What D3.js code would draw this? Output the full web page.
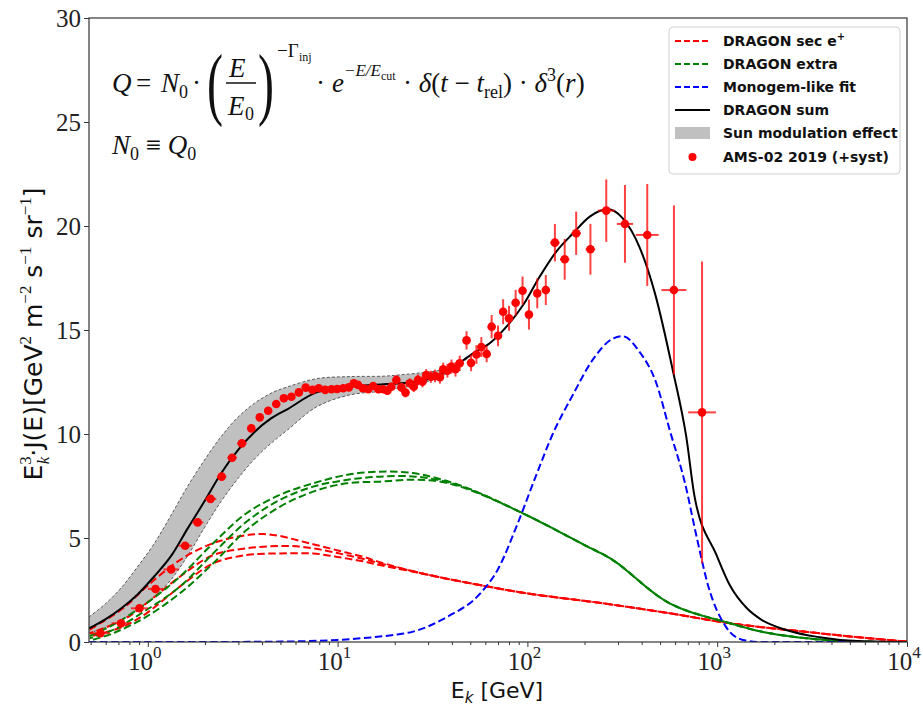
<!DOCTYPE html>
<html>
<head>
<meta charset="utf-8">
<script src="https://d3js.org/d3.v7.min.js"></script>
<style>
  body { margin: 0; background: #fff; }
  .tick text { font-family: "Liberation Serif", serif; }
</style>
</head>
<body>
<div id="chart"></div>
<script>
// ---- data ----
// AMS-02 2019 positron points: energy [GeV], E^3 J(E), y error, half bin width (dex)
var amsE = [0.563, 0.723, 0.904, 1.098, 1.327, 1.573, 1.83, 2.14, 2.45, 2.78, 3.13, 3.51, 3.89, 4.31, 4.75, 5.21,
  5.71, 6.25, 6.79, 7.37, 7.96, 8.6, 9.29, 9.94, 10.7, 11.46, 12.17, 12.8, 13.6, 14.5, 15.4, 16.4, 17.4, 18.3, 19.2,
  20.4, 21.7, 22.8, 24.0, 25.2, 26.5, 28.0, 29.3, 31.0, 32.6, 34.6, 36.0, 37.9, 39.8, 41.8, 44.0,
  47.8, 50.5, 53.9, 57.2, 61.0, 64.8, 70.0, 74.5, 80.0, 86.7, 94.3, 101.9, 112.7, 125, 139.6, 157.2, 180.7, 214.8,
  260.3, 326.6, 428, 591.5, 832];
var amsV = [0.42, 0.90, 1.62, 2.55, 3.49, 4.63, 5.75, 6.88, 7.95, 8.86, 9.55, 10.27, 10.80, 11.12, 11.44, 11.72,
  11.79, 12.0, 12.23, 12.12, 12.2, 12.12, 12.15, 12.16, 12.2, 12.24, 12.44, 12.36, 12.2, 12.15, 12.31, 12.15, 12.15, 12.08, 12.27,
  12.6, 12.24, 11.99, 12.44, 12.27, 12.6, 12.51, 12.84, 12.75, 12.79, 12.73, 13.11, 13.04, 13.24, 13.11, 13.4,
  14.5, 13.42, 13.82, 14.18, 13.85, 15.16, 14.72, 15.88, 15.56, 16.31, 16.89, 15.74, 16.76, 16.92, 19.2, 18.4, 19.65, 18.88,
  20.74, 20.1, 19.57, 16.92, 11.04];
var amsErr = [0.06, 0.06, 0.07, 0.07, 0.08, 0.08, 0.09, 0.09, 0.1, 0.1, 0.1, 0.1, 0.11, 0.11, 0.11, 0.12,
  0.12, 0.13, 0.13, 0.13, 0.14, 0.14, 0.14, 0.15, 0.15, 0.16, 0.16, 0.17, 0.17, 0.18, 0.18, 0.19, 0.19, 0.2, 0.2,
  0.21, 0.22, 0.23, 0.24, 0.25, 0.26, 0.27, 0.28, 0.29, 0.3, 0.31, 0.32, 0.33, 0.34, 0.35, 0.37,
  0.44, 0.4, 0.45, 0.48, 0.4, 0.56, 0.5, 0.6, 0.6, 0.62, 0.68, 0.72, 0.72, 0.72, 0.9, 0.98, 1.04, 1.22,
  1.5, 1.87, 2.45, 4.07, 7.25];
var amsDx = [0.05, 0.05, 0.045, 0.04, 0.04, 0.035, 0.03, 0.03, 0.025, 0.025, 0.025, 0.02, 0.02, 0.02, 0.02, 0.02,
  0.015, 0.015, 0.015, 0.015, 0.015, 0.015, 0.015, 0.015, 0.015, 0.015, 0.015, 0.015, 0.015, 0.015, 0.015, 0.015, 0.015, 0.015, 0.015,
  0.015, 0.015, 0.015, 0.015, 0.015, 0.015, 0.015, 0.015, 0.015, 0.015, 0.015, 0.015, 0.015, 0.015, 0.015, 0.015,
  0.02, 0.02, 0.02, 0.02, 0.02, 0.02, 0.02, 0.02, 0.02, 0.02, 0.02, 0.02, 0.02, 0.02, 0.025, 0.025, 0.025, 0.025,
  0.044, 0.043, 0.06, 0.066, 0.073];

// DRAGON sum (black)
var sumE = [0.49, 0.6, 0.72, 0.886, 1.08, 1.33, 1.62, 2.0, 2.43, 3.0, 3.65, 4.46, 5.46, 7.74, 11.6, 17.4, 26, 39,
  51.7, 63.3, 77.6, 94.9, 116, 142, 174, 213, 240, 265, 318, 389, 470, 583, 687, 760, 990, 1170, 1434, 1690,
  2308, 3463, 5196, 10000];
var sumV = [0.65, 1.1, 1.6, 2.3, 3.15, 4.15, 5.45, 6.8, 8.1, 9.25, 10.1, 10.75, 11.2, 12.0, 12.27, 12.39, 12.51, 13.1,
  13.88, 14.36, 15.16, 16.2, 17.56, 18.77, 19.65, 20.45, 20.72, 20.8, 20.37, 19.0, 16.76, 13.08, 9.87, 6.99, 4.2, 2.7, 1.62, 1.1,
  0.58, 0.23, 0.06, 0.0];

// Sun modulation band
var bandE = [0.49, 0.6, 0.723, 0.88, 1.084, 1.327, 1.624, 1.99, 2.43, 2.98, 3.65, 4.46, 5.46, 7.74, 11.6, 17.4, 21, 26, 34, 39, 52];
var bandHi = [1.2, 1.85, 2.6, 3.6, 4.75, 6.1, 7.5, 8.75, 9.87, 10.8, 11.48, 11.96, 12.27, 12.66, 12.76, 12.78, 12.84, 12.92, 13.05, 13.2, 13.9];
var bandLo = [0.42, 0.7, 1.05, 1.55, 2.18, 3.0, 4.15, 5.5, 6.75, 7.85, 8.8, 9.55, 10.2, 11.3, 11.88, 12.06, 12.2, 12.36, 12.7, 13.0, 13.86];

// DRAGON secondary e+ (three red dashed)
var secE = [0.494, 0.741, 0.984, 1.475, 2.21, 3.31, 4.05, 4.96, 6.07, 7.43, 9.1, 11.1, 13.6, 16.7, 25, 35, 56, 99, 250, 562, 1170, 2850, 6300, 10000];
var secA = [0.6, 1.62, 2.66, 3.94, 4.75, 5.14, 5.19, 5.1, 4.9, 4.7, 4.5, 4.3, 4.1, 3.84, 3.4, 3.1, 2.74, 2.34, 1.86, 1.38, 0.9, 0.5, 0.18, 0.02];
var secB = [0.42, 1.06, 1.86, 3.14, 4.18, 4.5, 4.58, 4.62, 4.6, 4.5, 4.35, 4.18, 4.0, 3.78, 3.4, 3.1, 2.74, 2.34, 1.86, 1.38, 0.9, 0.5, 0.18, 0.02];
var secC = [0.26, 0.74, 1.38, 2.66, 3.78, 4.18, 4.24, 4.26, 4.27, 4.26, 4.15, 4.02, 3.88, 3.7, 3.38, 3.1, 2.74, 2.34, 1.86, 1.38, 0.9, 0.5, 0.18, 0.02];

// DRAGON extra (three green dashed)
var extraE = [0.494, 0.656, 0.984, 1.475, 2.21, 3.31, 4.96, 7.43, 11.1, 16.7, 25, 35, 50, 99, 200, 282, 562, 1170, 1890, 4240, 10000];
var extraA = [0.29, 0.82, 1.86, 3.14, 4.75, 6.19, 7.07, 7.63, 8.03, 8.19, 8.12, 7.82, 7.35, 6.1, 4.66, 3.94, 1.86, 0.9, 0.42, 0.06, 0.0];
var extraB = [0.18, 0.58, 1.54, 2.66, 4.26, 5.78, 6.83, 7.47, 7.79, 7.95, 7.96, 7.76, 7.33, 6.1, 4.66, 3.94, 1.86, 0.9, 0.42, 0.06, 0.0];
var extraC = [0.06, 0.42, 1.22, 2.34, 3.78, 5.38, 6.5, 7.23, 7.63, 7.71, 7.8, 7.7, 7.3, 6.1, 4.66, 3.94, 1.86, 0.9, 0.42, 0.06, 0.0];

// Monogem-like fit (blue dashed)
var monoE = [0.49, 2, 5, 10, 15, 20, 25, 37.6, 56, 70, 88, 110, 136, 174, 222, 284, 318, 389, 478, 562, 677, 779, 899, 1110, 1366, 1700, 10000];
var monoV = [0, 0, 0.02, 0.1, 0.22, 0.35, 0.5, 1.2, 2.3, 3.5, 5.6, 7.9, 10.0, 11.9, 13.6, 14.6, 14.7, 13.96, 12.44, 10.19, 7.63, 5.06, 2.66, 0.74, 0.1, 0.0, 0.0];

var legendLabels = ["DRAGON sec e", "DRAGON extra", "Monogem-like fit", "DRAGON sum", "Sun modulation effect", "AMS-02 2019 (+syst)"];
var yTicks = [0, 5, 10, 15, 20, 25, 30];
var xTicks = [1, 10, 100, 1000, 10000];

// ---- layout ----
var W = 923, H = 707;
var mL = 89, mR = 907, mT = 18, mB = 642;

var svg = d3.select("#chart").append("svg")
  .attr("width", W).attr("height", H)
  .style("font-family", "DejaVu Sans, sans-serif");

var x = d3.scaleLog().domain([0.49, 10000]).range([mL, mR]);
var y = d3.scaleLinear().domain([0, 30]).range([mB, mT]);

svg.append("clipPath").attr("id", "clip")
  .append("rect").attr("x", mL).attr("y", mT).attr("width", mR - mL).attr("height", mB - mT);

var plot = svg.append("g").attr("clip-path", "url(#clip)");

function zip(es, vs) { return es.map(function (e, i) { return [e, vs[i]]; }); }
var line = d3.line().x(function (d) { return x(d[0]); }).y(function (d) { return y(d[1]); }).curve(d3.curveMonotoneX);
var smooth = d3.line().x(function (d) { return x(d[0]); }).y(function (d) { return y(d[1]); }).curve(d3.curveCatmullRom.alpha(0.5));

// band
var band = bandE.map(function (e, i) { return { e: e, lo: bandLo[i], hi: bandHi[i] }; });
plot.append("path").datum(band)
  .attr("d", d3.area().x(function (d) { return x(d.e); }).y0(function (d) { return y(d.lo); })
    .y1(function (d) { return y(d.hi); }).curve(d3.curveCatmullRom.alpha(0.5)))
  .attr("fill", "#c0c0c0");
[bandHi, bandLo].forEach(function (arr) {
  plot.append("path").datum(zip(bandE, arr)).attr("d", smooth)
    .attr("fill", "none").attr("stroke", "#222").attr("stroke-width", 0.7).attr("stroke-dasharray", "3,2");
});

// dashed model curves
var dash = "7.5,3.5";
[[secE, secA, "red", 0], [secE, secB, "red", 3.7], [secE, secC, "red", 7.4],
 [extraE, extraA, "green", 0], [extraE, extraB, "green", 3.7], [extraE, extraC, "green", 7.4]].forEach(function (c) {
  plot.append("path").datum(zip(c[0], c[1])).attr("d", smooth)
    .attr("fill", "none").attr("stroke", c[2]).attr("stroke-width", 2)
    .attr("stroke-dasharray", dash).attr("stroke-dashoffset", c[3]);
});
plot.append("path").datum(zip(monoE, monoV)).attr("d", line)
  .attr("fill", "none").attr("stroke", "blue").attr("stroke-width", 2).attr("stroke-dasharray", dash);

// sum
plot.append("path").datum(zip(sumE, sumV)).attr("d", line)
  .attr("fill", "none").attr("stroke", "black").attr("stroke-width", 2);

// data points
var pts = amsE.map(function (e, i) { return { e: e, v: amsV[i], err: amsErr[i], dx: amsDx[i] }; });
var pg = svg.append("g");
pg.selectAll(".ev").data(pts).enter().append("line")
  .attr("x1", function (d) { return x(d.e); }).attr("x2", function (d) { return x(d.e); })
  .attr("y1", function (d) { return y(d.v - d.err); }).attr("y2", function (d) { return y(d.v + d.err); })
  .attr("stroke", "red").attr("stroke-opacity", 0.75).attr("stroke-width", 2);
pg.selectAll(".eh").data(pts).enter().append("line")
  .attr("x1", function (d) { return x(d.e * Math.pow(10, -d.dx)); }).attr("x2", function (d) { return x(d.e * Math.pow(10, d.dx)); })
  .attr("y1", function (d) { return y(d.v); }).attr("y2", function (d) { return y(d.v); })
  .attr("stroke", "red").attr("stroke-opacity", 0.75).attr("stroke-width", 2);
pg.selectAll("circle").data(pts).enter().append("circle")
  .attr("cx", function (d) { return x(d.e); }).attr("cy", function (d) { return y(d.v); })
  .attr("r", 4.3).attr("fill", "red");

// ---- axes ----
var minor = [];
[0.1, 1, 10, 100, 1000].forEach(function (dec) {
  for (var k = 2; k <= 9; k++) { var v = k * dec; if (v >= 0.49 && v <= 10000) minor.push(v); }
});
svg.append("g").attr("transform", "translate(0," + mB + ")")
  .call(d3.axisBottom(x).tickValues(minor).tickSize(3).tickFormat(""))
  .call(function (g) { g.select(".domain").remove(); g.selectAll("line").attr("stroke", "#333"); });
var xg = svg.append("g").attr("transform", "translate(0," + mB + ")")
  .call(d3.axisBottom(x).tickValues(xTicks).tickSize(5).tickFormat(""));
xg.select(".domain").remove();
xg.selectAll("line").attr("stroke", "#333");
xTicks.forEach(function (t) {
  var t0 = svg.append("text").attr("x", x(t) - 3).attr("y", 670).attr("text-anchor", "middle")
    .style("font-family", "Liberation Serif, serif").style("font-size", "25px").attr("fill", "#222");
  t0.append("tspan").text("10");
  t0.append("tspan").attr("dy", -12).style("font-size", "17px").text(Math.round(Math.log10(t)));
});

var yg = svg.append("g").attr("transform", "translate(" + mL + ",0)")
  .call(d3.axisLeft(y).tickValues(yTicks).tickSize(5).tickPadding(3));
yg.select(".domain").remove();
yg.selectAll("line").attr("stroke", "#333");
yg.selectAll("text").style("font-size", "25px").attr("fill", "#222").attr("dy", "0.34em");

// frame
svg.append("rect").attr("x", mL).attr("y", mT).attr("width", mR - mL).attr("height", mB - mT)
  .attr("fill", "none").attr("stroke", "#333").attr("stroke-width", 1.2);

// axis labels
var xl = svg.append("text").attr("x", 497).attr("y", 698).attr("text-anchor", "middle")
  .style("font-size", "22px").attr("fill", "#111");
xl.append("tspan").text("E");
xl.append("tspan").attr("dy", 5).style("font-size", "15px").style("font-style", "italic").text("k");
xl.append("tspan").attr("dy", -5).text(" [GeV]");

var yl = svg.append("text").attr("transform", "translate(42,334) rotate(-90)").attr("text-anchor", "middle")
  .style("font-size", "25px").attr("fill", "#111");
function sup(t, s, dy) {
  return t.append("tspan").attr("dy", dy).style("font-size", "17px").style("font-family", "Liberation Serif, serif").text(s);
}
yl.append("tspan").text("E");
sup(yl, "3", -11);
sup(yl, "k", 18).attr("dx", -8).style("font-style", "italic");
yl.append("tspan").attr("dy", -7).text("·J(E)[GeV");
sup(yl, "2", -11);
yl.append("tspan").attr("dy", 11).text(" m");
sup(yl, "−2", -11);
yl.append("tspan").attr("dy", 11).text(" s");
sup(yl, "−1", -11);
yl.append("tspan").attr("dy", 11).text(" sr");
sup(yl, "−1", -11);
yl.append("tspan").attr("dy", 11).text("]");

// ---- formula ----
var f = svg.append("g").style("font-family", "Liberation Serif, serif").attr("fill", "#111");
function ft(xp, yp, s, size, ital) {
  return f.append("text").attr("x", xp).attr("y", yp).style("font-size", size + "px")
    .style("font-style", ital ? "italic" : "normal").text(s);
}
ft(112, 92, "Q", 27, true);
ft(136, 92, "=", 27, false);
ft(161, 92, "N", 27, true);
ft(179, 98, "0", 18, false);
ft(192, 92, "·", 27, false);
f.append("text").attr("x", 207).attr("y", 110).style("font-size", "80px").style("font-weight", "100")
  .attr("transform", "translate(207,0) scale(0.6,1) translate(-207,0)").text("(");
ft(229, 77, "E", 27, true);
f.append("line").attr("x1", 226).attr("x2", 256).attr("y1", 83).attr("y2", 83).attr("stroke", "#111").attr("stroke-width", 1.5);
ft(228, 115, "E", 27, true);
ft(245, 120, "0", 18, false);
f.append("text").attr("x", 258).attr("y", 110).style("font-size", "80px").style("font-weight", "100")
  .attr("transform", "translate(258,0) scale(0.6,1) translate(-258,0)").text(")");
ft(277, 57, "−Γ", 19, false);
ft(299, 61, "inj", 12, false);
ft(316, 92, "·", 27, false);
ft(332, 92, "e", 27, true);
ft(344, 76, "−E/E", 17, true);
ft(381, 80, "cut", 12, false);
var tail = f.append("text").attr("x", 403).attr("y", 92).style("font-size", "27px");
tail.append("tspan").text("· ");
tail.append("tspan").style("font-style", "italic").text("δ");
tail.append("tspan").text("(");
tail.append("tspan").style("font-style", "italic").text("t");
tail.append("tspan").text(" − ");
tail.append("tspan").style("font-style", "italic").text("t");
tail.append("tspan").attr("dy", 6).style("font-size", "18px").text("rel");
tail.append("tspan").attr("dy", -6).text(") · ");
tail.append("tspan").style("font-style", "italic").text("δ");
tail.append("tspan").attr("dy", -11).style("font-size", "18px").text("3");
tail.append("tspan").attr("dy", 11).text("(");
tail.append("tspan").style("font-style", "italic").text("r");
tail.append("tspan").text(")");

var n0 = f.append("text").attr("x", 112).attr("y", 154).style("font-size", "27px");
n0.append("tspan").style("font-style", "italic").text("N");
n0.append("tspan").attr("dy", 6).style("font-size", "18px").text("0");
n0.append("tspan").attr("dy", -6).text(" ≡ ");
n0.append("tspan").style("font-style", "italic").text("Q");
n0.append("tspan").attr("dy", 6).style("font-size", "18px").text("0");

// ---- legend ----
var lg = svg.append("g");
lg.append("rect").attr("x", 669).attr("y", 27).attr("width", 231).attr("height", 147).attr("rx", 4)
  .attr("fill", "white").attr("fill-opacity", 0.85).attr("stroke", "#d0d0d0");
var ly = [41, 64, 87, 110, 133, 157];
var lx0 = 675, lx1 = 710, tx = 723;
[["red", "6,3"], ["green", "6,3"], ["blue", "6,3"], ["black", null]].forEach(function (s, i) {
  lg.append("line").attr("x1", lx0).attr("x2", lx1).attr("y1", ly[i]).attr("y2", ly[i])
    .attr("stroke", s[0]).attr("stroke-width", s[1] ? 1.8 : 2).attr("stroke-dasharray", s[1]);
});
lg.append("rect").attr("x", lx0).attr("y", ly[4] - 6).attr("width", lx1 - lx0).attr("height", 12).attr("fill", "#c0c0c0");
lg.append("circle").attr("cx", (lx0 + lx1) / 2).attr("cy", ly[5]).attr("r", 4).attr("fill", "red");
legendLabels.forEach(function (s, i) {
  var t = lg.append("text").attr("x", tx).attr("y", ly[i] + 5).style("font-size", "14px").style("font-weight", "bold").attr("fill", "#111").text(s);
  if (i === 0) t.append("tspan").attr("dy", -6).style("font-size", "10px").text("+");
});
</script>
</body>
</html>
